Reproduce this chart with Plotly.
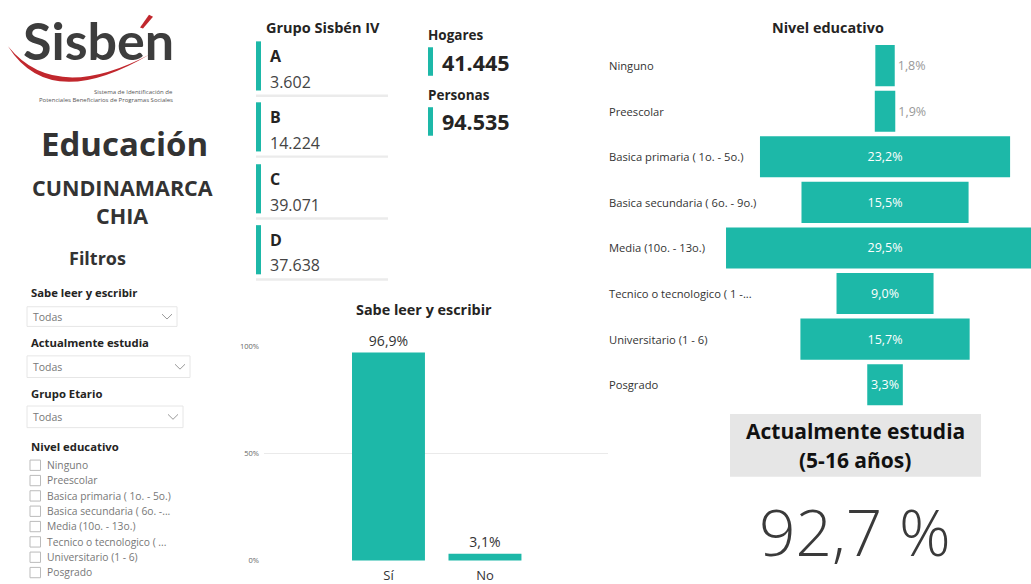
import plotly.graph_objects as go

W, H = 1031, 584
FONT = "Segoe UI, Open Sans, sans-serif"
TEAL = "#1DB8A8"
DARK = "#252423"

# ---------------- data ----------------
grupos = ["A", "B", "C", "D"]
grupo_valores = [3602, 14224, 39071, 37638]
hogares = 41445
personas = 94535

sabe_cat = ["Sí", "No"]
sabe_pct = [96.9, 3.1]
sabe_tickvals = [0, 50, 100]
sabe_ticktext = ["0%", "50%", "100%"]

nivel_labels = ["Ninguno", "Preescolar", "Basica primaria ( 1o. - 5o.)",
                "Basica secundaria ( 6o. - 9o.)", "Media (10o. - 13o.)",
                "Tecnico o tecnologico ( 1 -...", "Universitario (1 - 6)", "Posgrado"]
nivel_pct = [1.8, 1.9, 23.2, 15.5, 29.5, 9.0, 15.7, 3.3]

filtro_nivel = ["Ninguno", "Preescolar", "Basica primaria ( 1o. - 5o.)",
                "Basica secundaria ( 6o. -...", "Media (10o. - 13o.)",
                "Tecnico o tecnologico ( ...", "Universitario (1 - 6)", "Posgrado"]
filtros_dropdown = ["Sabe leer y escribir", "Actualmente estudia", "Grupo Etario"]
estudia_pct = 92.7

departamento = "CUNDINAMARCA"
municipio = "CHIA"

# ---------------- helpers ----------------
def px(x):
    return x / W

def py(y):
    return 1 - y / H

annotations = []
shapes = []

def text(x, y, s, size, color=DARK, bold=False, xanchor="left", family=FONT, weight=None, yref="paper"):
    f = dict(size=size, color=color, family=family)
    if weight is not None:
        f["weight"] = weight
    annotations.append(dict(
        x=px(x), y=py(y) if yref == "paper" else y, xref="paper", yref=yref,
        text=f"<b>{s}</b>" if bold else s, showarrow=False,
        xanchor=xanchor, yanchor="middle", font=f))

def rect(x0, y0, x1, y1, fill=None, line=None, lw=1):
    shapes.append(dict(type="rect", xref="paper", yref="paper",
                       x0=px(x0), x1=px(x1), y0=py(y1), y1=py(y0),
                       fillcolor=fill if fill else "rgba(0,0,0,0)",
                       line=dict(color=line if line else "rgba(0,0,0,0)", width=lw if line else 0)))

def path(pts, color, width=1, fill=None, closed=False):
    d = "M " + " L ".join(f"{px(x)},{py(y)}" for x, y in pts)
    if closed:
        d += " Z"
    shapes.append(dict(type="path", xref="paper", yref="paper", path=d,
                       line=dict(color=color, width=width),
                       fillcolor=fill if fill else "rgba(0,0,0,0)"))

# ---------------- logo ----------------
def q(x, y):
    return f"{px(x)},{py(y)}"

shapes.append(dict(type="path", xref="paper", yref="paper",
                   path=f"M {q(8,42)} Q {q(50,110)} {q(150,50)} Q {q(55,101)} {q(8,42)} Z",
                   fillcolor="#C1272D", line=dict(width=0)))
text(98, 36, "Sisben", 52, color="#3d3d3d", bold=True, xanchor="center", family="Lato, sans-serif")
path([(140, 23), (149, 10), (153, 12), (143, 24)], "#C1272D", width=0, fill="#C1272D", closed=True)
text(175, 89, "Sistema de Identificación de", 6, color="#555", xanchor="right")
text(175, 97, "Potenciales Beneficiarios de Programas Sociales", 6, color="#555", xanchor="right")

# ---------------- titles left ----------------
text(124, 141, "Educación", 33, color="#333", bold=True, xanchor="center")
text(122, 185.5, departamento, 21.5, color="#333", bold=True, xanchor="center")
text(122, 214.5, municipio, 21.5, color="#333", bold=True, xanchor="center")
text(97, 257.5, "Filtros", 18, color="#333", bold=True, xanchor="center")

# dropdown filters
dd_label_y = [292, 343, 395]
dd_box = [(27, 307, 177, 327), (27, 357, 190, 379), (27, 408, 183, 430)]
for lab, ly, (x0, y0, x1, y1) in zip(filtros_dropdown, dd_label_y, dd_box):
    text(29, ly, lab, 11.3, color=DARK, bold=True)
    rect(x0, y0, x1, y1, fill="white", line="#E6E6E6", lw=1)
    text(31, (y0 + y1) / 2, "Todas", 10.5, color="#777")
    cx, cy = x1 - 10, (y0 + y1) / 2
    path([(cx - 5, cy - 2.5), (cx, cy + 2.5), (cx + 5, cy - 2.5)], "#999", width=1)

text(29, 449, "Nivel educativo", 11.3, color=DARK, bold=True)
chk_y0 = 468
chk_step = 15.6
for i, lab in enumerate(filtro_nivel):
    yy = chk_y0 + i * chk_step
    rect(30, yy - 5, 40.5, yy + 5.5, fill="white", line="#BBBBBB", lw=1)
    text(45, yy, lab, 10.3, color="#777")

# ---------------- Grupo Sisbén IV cards ----------------
text(264, 23, "Grupo Sisbén IV", 14.5, color=DARK, bold=True)
card_top = [37, 99, 162, 224]
for g, v, t in zip(grupos, grupo_valores, card_top):
    rect(256, t, 261, t + 50, fill=TEAL)
    text(268, t + 15, g, 16, color=DARK, bold=True)
    text(268, t + 41, f"{v:,}".replace(",", "."), 16, color="#444")
    rect(256, t + 54, 388, t + 56.5, fill="#EBEBEB")

# Hogares / Personas
for lab, v, ly in [("Hogares", hogares, 31), ("Personas", personas, 92)]:
    text(426, ly, lab, 13.5, color=DARK, bold=True)
    rect(428, ly + 12, 433, ly + 41, fill=TEAL)
    text(440, ly + 27, f"{v:,}".replace(",", "."), 21.5, color=DARK, bold=True)

# ---------------- bar chart title ----------------
text(424, 310, "Sabe leer y escribir", 14.4, color=DARK, bold=True, xanchor="center")

# ---------------- funnel title & labels ----------------
text(828, 23, "Nivel educativo", 14.4, color=DARK, bold=True, xanchor="center")
for i, lab in enumerate(nivel_labels):
    annotations.append(dict(x=px(607), y=i, xref="paper", yref="y2", text=lab,
                            showarrow=False, xanchor="left", yanchor="middle",
                            font=dict(size=11.2, color="#333", family=FONT)))

# ---------------- Actualmente estudia ----------------
rect(730, 416, 981, 480, fill="#E6E6E6")
text(855, 433, "Actualmente estudia", 21, color="#111", bold=True, xanchor="center")
text(855, 463, "(5-16 años)", 21, color="#111", bold=True, xanchor="center")
text(855, 536, f"{estudia_pct:.1f}".replace(".", ",") + " %", 64, color="#3a3a3a",
     xanchor="center", weight=300)

# ---------------- traces ----------------
fig = go.Figure()
fig.add_trace(go.Bar(
    x=sabe_cat, y=sabe_pct, marker=dict(color=TEAL, line=dict(width=0)),
    texttemplate="%{y:.1f}%", textposition="outside",
    textfont=dict(size=14, color="#333", family=FONT),
    cliponaxis=False, hoverinfo="skip", xaxis="x", yaxis="y"))

fig.add_trace(go.Funnel(
    y=list(range(len(nivel_pct))), x=nivel_pct,
    marker=dict(color=TEAL, line=dict(width=0)),
    connector=dict(visible=False),
    texttemplate="%{x:.1f}%",
    textposition=["outside" if v < 3 else "inside" for v in nivel_pct],
    insidetextfont=dict(color="white", size=12.5, family=FONT),
    outsidetextfont=dict(color="#999", size=12.5, family=FONT),
    constraintext="none", textangle=0, hoverinfo="skip",
    xaxis="x2", yaxis="y2"))

fig.update_layout(
    width=W, height=H, margin=dict(l=0, r=0, t=0, b=0),
    paper_bgcolor="white", plot_bgcolor="white",
    separators=",.", showlegend=False,
    bargap=0.244, funnelgap=0.1,
    font=dict(family=FONT),
    xaxis=dict(domain=[px(264), px(608)], range=[-1.29, 2.275], anchor="y",
               showgrid=False, zeroline=False, showline=False, ticks="",
               ticklabelstandoff=5,
               tickfont=dict(size=13, color="#333", family=FONT)),
    yaxis=dict(domain=[py(566), py(346)], range=[-0.4, 100.4], anchor="x",
               tickvals=sabe_tickvals, ticktext=sabe_ticktext,
               showgrid=True, gridcolor="#EAEAEA", gridwidth=1, zeroline=False,
               showline=False, ticks="", ticklabelstandoff=4,
               tickfont=dict(size=7.5, color="#666", family=FONT)),
    xaxis2=dict(domain=[px(600), 1], range=[-26.44, 13.54], anchor="y2", visible=False),
    yaxis2=dict(domain=[py(409.5), py(38.5)], range=[7.5, -0.5], anchor="x2",
                visible=False, autorange=False),
    annotations=annotations, shapes=shapes,
)

fig.write_html("out.html", config={"displayModeBar": False},
               post_script="document.body.style.margin='0';document.body.style.overflow='hidden';")
